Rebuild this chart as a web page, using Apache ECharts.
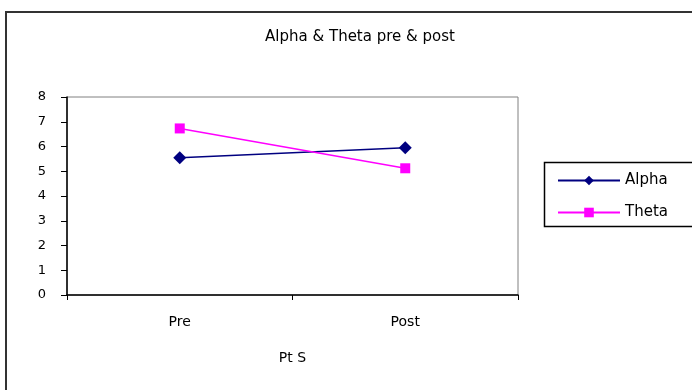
<!DOCTYPE html>
<html><head><meta charset="utf-8">
<script src="https://cdn.jsdelivr.net/npm/echarts@6/dist/echarts.min.js"></script>
<style>html,body{margin:0;padding:0;background:#fff}#c{width:692px;height:390px}</style>
</head><body><div id="c"></div>
<script>
const categories = ['Pre', 'Post'];
const alpha = [5.55, 5.95];
const theta = [6.73, 5.12];
const yTicks = [0, 8, 1];

const chart = echarts.init(document.getElementById('c'));
const font = 'DejaVu Sans';
chart.setOption({
  animation: false,
  backgroundColor: '#fff',
  title: {
    text: 'Alpha & Theta pre & post',
    left: 355, top: 25, textAlign: 'center',
    textStyle: {fontFamily: font, fontSize: 15, fontWeight: 'normal', color: '#000'}
  },
  graphic: [
    {type: 'rect', shape: {x: 6, y: 12, width: 720, height: 420}, style: {fill: null, stroke: '#333', lineWidth: 2}, z: 100},
    {type: 'rect', shape: {x: 544.5, y: 162.5, width: 200, height: 64}, style: {fill: null, stroke: '#000', lineWidth: 1.5}, z: 100}
  ],
  legend: {
    orient: 'vertical', left: 552, top: 168, itemGap: 17,
    itemWidth: 62, itemHeight: 12,
    textStyle: {fontFamily: font, fontSize: 15, color: '#000'},
    data: ['Alpha', 'Theta']
  },
  grid: {left: 67, top: 97, right: 174, bottom: 95, show: true, borderColor: '#808080', borderWidth: 1, backgroundColor: '#fff'},
  xAxis: {
    type: 'category', data: categories, boundaryGap: true,
    name: 'Pt S', nameLocation: 'middle', nameGap: 56,
    nameTextStyle: {fontFamily: font, fontSize: 14, color: '#000'},
    axisLine: {lineStyle: {color: '#000', width: 1.5}},
    axisTick: {show: true, length: 5, lineStyle: {color: '#000'}},
    axisLabel: {margin: 20, fontFamily: font, fontSize: 14, color: '#000'}
  },
  yAxis: {
    type: 'value', min: yTicks[0], max: yTicks[1], interval: yTicks[2],
    axisLine: {show: true, lineStyle: {color: '#000', width: 1.5}},
    axisTick: {show: true, length: 6, lineStyle: {color: '#000'}},
    splitLine: {show: false},
    axisLabel: {margin: 21, fontFamily: font, fontSize: 13, color: '#000'}
  },
  series: [
    {name: 'Alpha', type: 'line', data: alpha, symbol: 'diamond', symbolSize: 13,
     itemStyle: {color: '#000080'}, lineStyle: {color: '#000080', width: 1.5}},
    {name: 'Theta', type: 'line', data: theta, symbol: 'rect', symbolSize: 10,
     itemStyle: {color: '#ff00ff'}, lineStyle: {color: '#ff00ff', width: 1.5}}
  ]
});
</script></body></html>
